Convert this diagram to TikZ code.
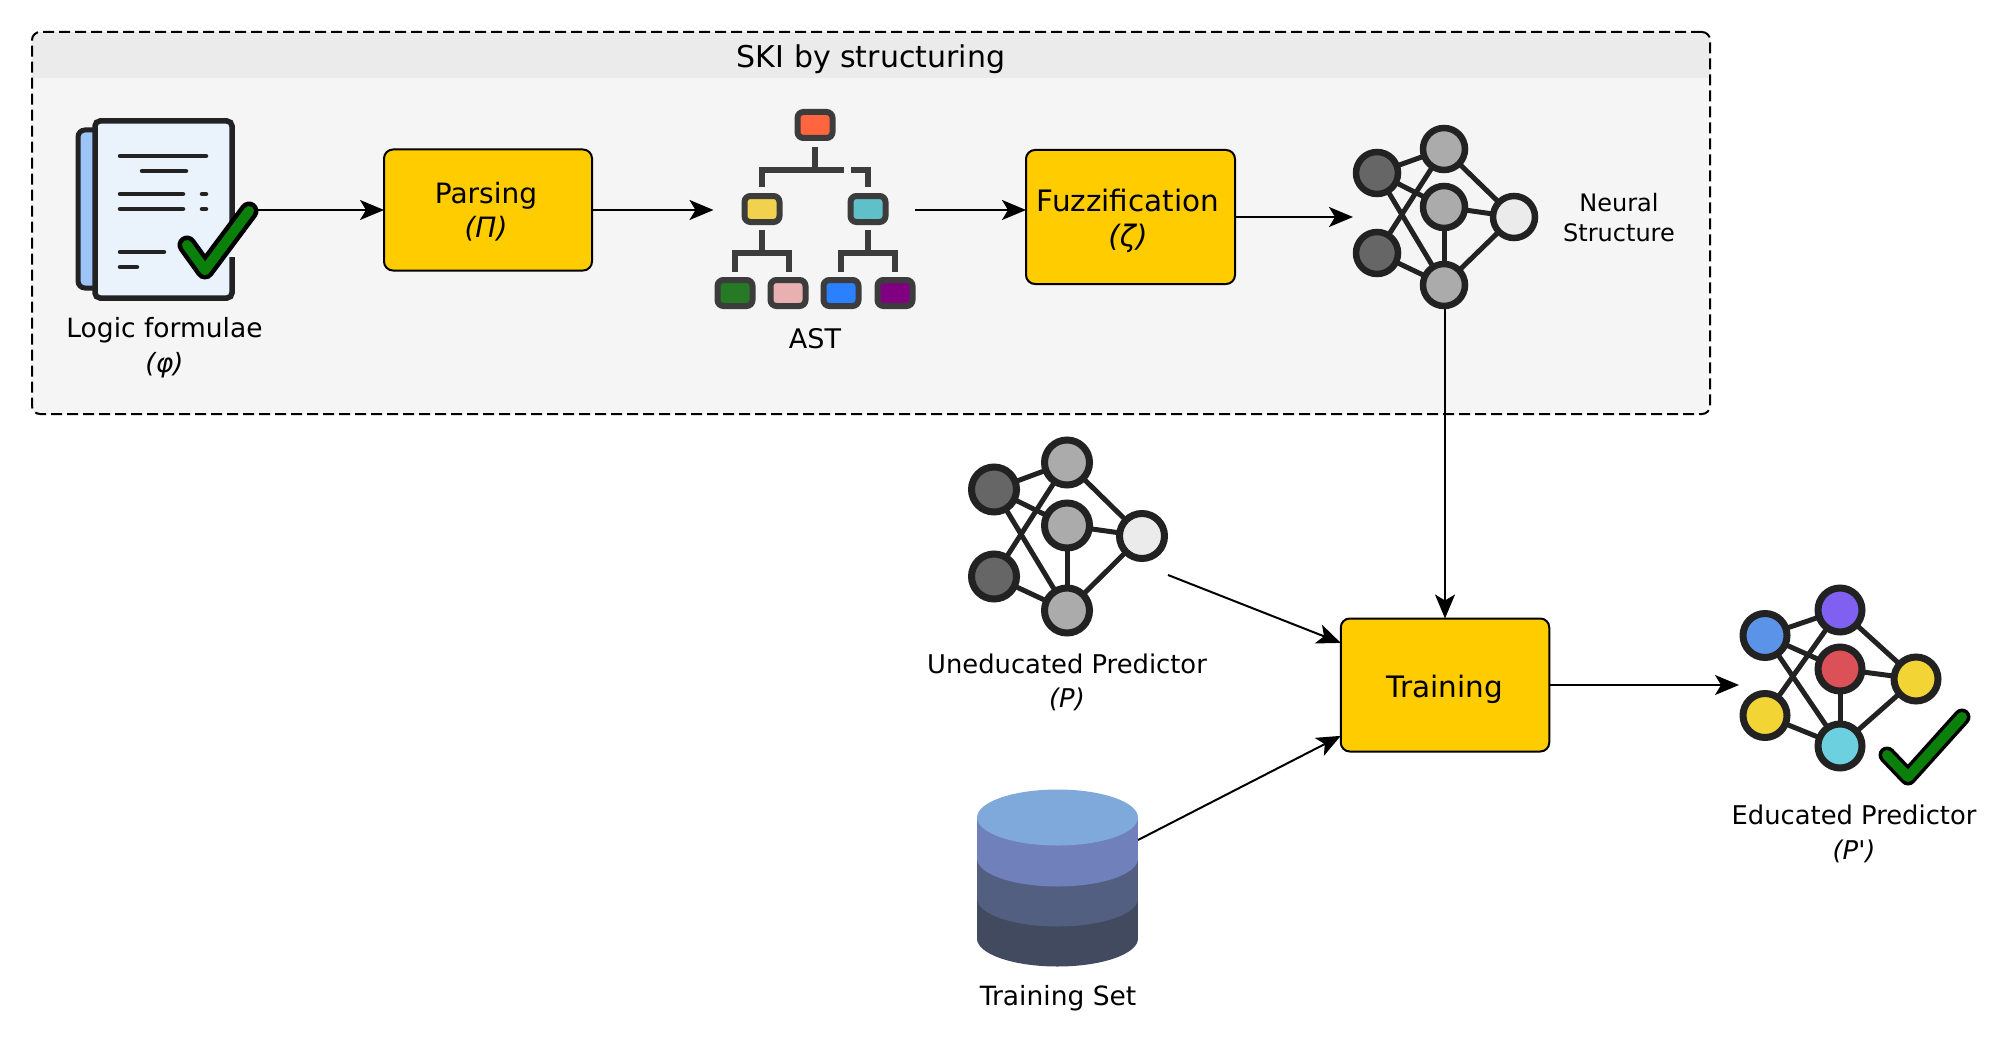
\documentclass[tikz,border=0pt]{standalone}
\usepackage{fontspec}
\setmainfont{DejaVu Sans}[Ligatures=TeXOff]
\usetikzlibrary{arrows.meta}
\definecolor{groupbg}{HTML}{F5F5F5}
\definecolor{bandbg}{HTML}{EBEBEB}
\definecolor{boxy}{HTML}{FFCC00}
\definecolor{ink}{HTML}{222222}
\definecolor{treeink}{HTML}{3C3C3C}
\definecolor{tickgreen}{HTML}{0A7F0A}
\definecolor{backpage}{HTML}{9CC4F6}
\definecolor{frontpage}{HTML}{EAF2FC}
\definecolor{troot}{HTML}{FF6640}
\definecolor{tyellow}{HTML}{F0D24E}
\definecolor{tteal}{HTML}{5FC0C9}
\definecolor{tgreen}{HTML}{267A26}
\definecolor{tpink}{HTML}{E8B0B0}
\definecolor{tblue}{HTML}{2A80FF}
\definecolor{tpurple}{HTML}{800080}
\definecolor{dba}{HTML}{7FA9DA}
\definecolor{dbb}{HTML}{7080BB}
\definecolor{dbc}{HTML}{535F80}
\definecolor{dbd}{HTML}{424A60}
\definecolor{nblue}{HTML}{5B93E8}
\definecolor{npurple}{HTML}{7F60F0}
\definecolor{nred}{HTML}{DC5058}
\definecolor{nyellow}{HTML}{F2D535}
\definecolor{ncyan}{HTML}{6DD0DE}
\definecolor{ndark}{HTML}{666666}
\definecolor{nmid}{HTML}{ABABAB}
\definecolor{nlight}{HTML}{EBEBEB}
\tikzset{
  x=1pt,y=-1pt,
  flow/.style={draw=black,line width=2pt,-{Stealth[length=24pt,width=20pt,inset=6pt]}},
  stepbox/.style={draw=black,line width=2pt,fill=boxy,rounded corners=9pt,outer sep=0pt,inner sep=0pt},
  labeltext/.style={align=center,inner sep=0pt,font=\fontsize{27}{34.5}\selectfont},
  hull/.style={inner sep=0pt,outer sep=0pt},
  neuron/.style={circle,draw=ink,fill=#1,outer sep=0pt,inner sep=0pt},
  syn/.style={draw=ink,line width=5pt},
  treebox/.style={draw=treeink,fill=#1,line width=6pt,rounded corners=6pt,minimum width=35pt,minimum height=26pt,inner sep=0pt,outer sep=0pt},
  treeline/.style={draw=treeink,line width=5.5pt},
  tickout/.style={draw=black,line width=19pt,line join=round,line cap=round},
  tickin/.style={draw=tickgreen,line width=10pt,line join=round,line cap=round},
  docline/.style={draw=ink,line width=4.5pt,line cap=round},
}
\newcommand{\netedges}[1]{%
  \foreach \a/\b in {a/c,a/d,a/e,b/c,b/e,c/f,d/f,d/e,e/f}{\draw[syn] (#1\a) -- (#1\b);}%
}
\newcommand{\boxtext}[4]{\hspace*{#1}\vbox{\vskip#2\halign{\hfil##\hfil\cr#3\cr#4\cr}}}
\begin{document}
\begin{tikzpicture}
\useasboundingbox (0,0) rectangle (2013,1046);
% group
\fill[groupbg,rounded corners=8pt] (32,32) rectangle (1710,414);
\fill[bandbg] (32,78) [rounded corners=8pt] -- (32,32) -- (1710,32) [sharp corners] -- (1710,78) -- cycle;
\node[hull,draw=black,line width=2pt,dash pattern=on 11pt off 5pt,rounded corners=8pt,minimum width=1678pt,minimum height=382pt] (group) at (871,223) {};
\node[inner sep=0pt,font=\fontsize{30}{34}\selectfont] (grouptitle) at (871,59.5) {SKI by structuring};

% document icon
\node[hull,minimum width=179pt,minimum height=181pt] (doc) at (165.5,210) {};
\draw[line width=5pt,draw=ink,fill=backpage,rounded corners=7pt] (94,130) -- (78,130) -- (78,288) -- (94,288);
\fill[frontpage,rounded corners=5pt] (94,121) rectangle (232,298);
\draw[line width=5.5pt,draw=ink,rounded corners=5pt] (232,222) -- (232,121) -- (95,121) -- (95,298) -- (232,298) -- (232,257);
\draw[docline] (120,156) -- (206,156);
\draw[docline] (142,171) -- (186,171);
\draw[docline] (120,194) -- (183,194);
\draw[docline] (202,194) -- (206,194);
\draw[docline] (120,209) -- (183,209);
\draw[docline] (202,209) -- (206,209);
\draw[docline] (120,252) -- (164,252);
\draw[docline] (120,267) -- (137,267);
\draw[tickout] (187,245) -- (205,270) -- (249,211);
\draw[tickin] (187,245) -- (205,270) -- (249,211);
\node[labeltext,font=\fontsize{26.5}{34.5}\selectfont] (logiclabel) at (164.5,347.5) {Logic formulae\\\textit{(φ)}};

% boxes
\node[stepbox,minimum width=208pt,minimum height=121pt,font=\fontsize{28}{34.5}\selectfont] (parsing) at (488,210) {\boxtext{-4pt}{3pt}{Parsing}{\textit{(Π)}}};
\node[stepbox,minimum width=209pt,minimum height=134pt,font=\fontsize{29.5}{35}\selectfont] (fuzz) at (1130.5,217) {\boxtext{-5pt}{8pt}{Fuzzification}{\textit{(ζ)}}};
\node[stepbox,minimum width=208.5pt,minimum height=133pt,font=\fontsize{29.5}{34}\selectfont] (training) at (1445,685) {\vbox{\vskip9pt\hbox{Training}}};

% AST icon
\node[hull,minimum width=201pt,minimum height=200pt] (ast) at (814,210) {};
\node[treebox=troot] (r) at (815,125) {};
\node[treebox=tyellow] (ty) at (762,209) {};
\node[treebox=tteal] (tt) at (868,209) {};
\node[treebox=tgreen] (l1) at (735,293) {};
\node[treebox=tpink] (l2) at (788,293) {};
\node[treebox=tblue] (l3) at (841,293) {};
\node[treebox=tpurple] (l4) at (895,293) {};
\draw[treeline] (815,147) -- (815,170);
\draw[treeline] (762,187) -- (762,170) -- (844,170);
\draw[treeline] (851,170) -- (868,170) -- (868,187);
\draw[treeline] (762,230) -- (762,253);
\draw[treeline] (735,272) -- (735,253) -- (789,253) -- (789,272);
\draw[treeline] (868,230) -- (868,253);
\draw[treeline] (841,272) -- (841,253) -- (895,253) -- (895,272);
\node[labeltext] (astlabel) at (815,338.5) {AST};

% neural structure
\node[hull,minimum width=184pt,minimum height=184pt] (neural) at (1445,217) {};
\begin{scope}[every node/.append style={minimum size=42pt,line width=6.5pt}]
\node[neuron=ndark] (Aa) at (1377,173) {};
\node[neuron=ndark] (Ab) at (1377,253) {};
\node[neuron=nmid] (Ac) at (1444,149) {};
\node[neuron=nmid] (Ad) at (1444,207) {};
\node[neuron=nmid] (Ae) at (1444,285) {};
\node[neuron=nlight] (Af) at (1514,217) {};
\end{scope}
\netedges{A}
\node[labeltext,font=\fontsize{24}{30}\selectfont] (neurallabel) at (1619,218) {Neural\\Structure};

% uneducated predictor
\begin{scope}[every node/.append style={minimum size=45pt,line width=7pt}]
\node[neuron=ndark] (Ba) at (994,489.5) {};
\node[neuron=ndark] (Bb) at (994,576.5) {};
\node[neuron=nmid] (Bc) at (1067,462.5) {};
\node[neuron=nmid] (Bd) at (1067,525.5) {};
\node[neuron=nmid] (Be) at (1067,610.5) {};
\node[neuron=nlight] (Bf) at (1142,536) {};
\end{scope}
\netedges{B}
\node[labeltext,font=\fontsize{25.8}{34}\selectfont] (unedlabel) at (1067,682.5) {Uneducated Predictor\\\textit{(P)}};
\coordinate (unedout) at (1168,575);

% training set
\fill[dbd] (977,898.5) rectangle (1138,938.5);
\fill[dbd] (1057.5,938.5) ellipse [x radius=80.5pt,y radius=28pt];
\fill[dbc] (977,858.5) rectangle (1138,898.5);
\fill[dbc] (1057.5,898.5) ellipse [x radius=80.5pt,y radius=28pt];
\fill[dbb] (977,817.5) rectangle (1138,858.5);
\fill[dbb] (1057.5,858.5) ellipse [x radius=80.5pt,y radius=28pt];
\fill[dba] (1057.5,817.5) ellipse [x radius=80.5pt,y radius=28pt];
\coordinate (dbout) at (1138,840);
\node[labeltext,font=\fontsize{26.5}{34}\selectfont] (dblabel) at (1058,998) {Training Set};

% educated predictor
\begin{scope}[every node/.append style={minimum size=44pt,line width=7pt}]
\node[neuron=nblue] (Ca) at (1765,635.5) {};
\node[neuron=nyellow] (Cb) at (1765,715.5) {};
\node[neuron=npurple] (Cc) at (1840,610) {};
\node[neuron=nred] (Cd) at (1840,669) {};
\node[neuron=ncyan] (Ce) at (1840,746) {};
\node[neuron=nyellow] (Cf) at (1916,679) {};
\end{scope}
\netedges{C}
\draw[tickout,line width=17pt] (1887,755) -- (1908,777) -- (1962,717);
\draw[tickin] (1887,755) -- (1908,777) -- (1962,717);
\node[hull,minimum width=180pt,minimum height=180pt] (educated) at (1829,685) {};
\node[labeltext,font=\fontsize{25.8}{35}\selectfont] (edlabel) at (1854,833.5) {Educated Predictor\\\textit{(P')}};

% connectors
\draw[flow] (doc.east) -- (parsing.west);
\draw[flow] (parsing.east) -- (ast.west);
\draw[flow] (ast.east) -- (fuzz.west |- ast.east);
\draw[flow] (fuzz.east) -- (neural.west);
\draw[flow] (neural.south) -- (training.north);
\draw[flow] (unedout) -- (training.158.2);
\draw[flow] (dbout) -- (training.206.6);
\draw[flow] (training.east) -- (educated.west);
\end{tikzpicture}
\end{document}
